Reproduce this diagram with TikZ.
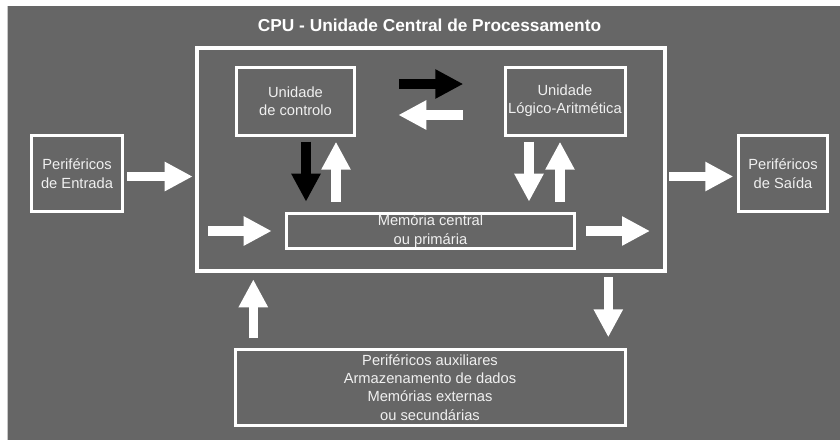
\documentclass[tikz,border=0pt]{standalone}
\usepackage{fontspec}
\setmainfont{Liberation Sans}
\usetikzlibrary{arrows.meta}
\definecolor{bg}{HTML}{666666}
\definecolor{txt}{HTML}{F0F0F0}
\begin{document}
\begin{tikzpicture}[x=1pt,y=-1pt,
  box/.style={draw=white,line width=3pt,rectangle,inner sep=0pt,text=txt,align=center,
    font=\fontsize{14.7}{18.3}\selectfont},
  blockw/.style={draw=white,line width=9.5pt,-{Triangle[length=28pt,width=27.5pt]}},
  blockb/.style={draw=black,line width=9.5pt,-{Triangle[length=28pt,width=27.5pt]}}]
\useasboundingbox (0,0) rectangle (840,440);
\fill[white] (0,0) rectangle (840,440);
\fill[bg] (7,6) rectangle (840,440);
\draw[line width=1pt,color={rgb,255:red,200;green,200;blue,200}] (7.5,6) -- (7.5,440);

\node[anchor=base,text=white,font=\fontsize{17.3}{20}\selectfont\bfseries] (title) at (429.5,31.7)
  {CPU - Unidade Central de Processamento};

\node[box,line width=4pt,minimum width=468pt,minimum height=223pt] (cpu) at (431,159) {};
\node[box,minimum width=118pt,minimum height=68pt] (cu) at (295.5,101) {Unidade\\de controlo};
\node[box,minimum width=120pt,minimum height=68pt] (alu) at (565,101) {Unidade\\Lógico-Aritmética};
\node[box,minimum width=91pt,minimum height=76pt] (in) at (77,173.7) {Periféricos\\de Entrada};
\node[box,minimum width=89.5pt,minimum height=76pt] (out) at (783,173.7) {Periféricos\\de Saída};
\node[box,minimum width=288pt,minimum height=35pt] (mem) at (430.5,231.2) {Memória central\\ou primária};
\node[box,minimum width=390pt,minimum height=76pt] (aux) at (430,387.2)
  {\raisebox{-2pt}{\parbox{300pt}{\centering Periféricos auxiliares\\Armazenamento de dados\\Memórias externas\\ou secundárias}}};

% arrow end points
\coordinate (a1s) at (127,176.5);   \coordinate (a1e) at (192.7,176.5);
\coordinate (a2s) at (669.3,176.5); \coordinate (a2e) at (733.3,176.5);
\coordinate (a3s) at (399.3,84);    \coordinate (a3e) at (463.3,84);
\coordinate (a4s) at (462.7,115);   \coordinate (a4e) at (398.3,115);
\coordinate (a5s) at (306,141.7);   \coordinate (a5e) at (306,201.7);
\coordinate (a6s) at (336,201.7);   \coordinate (a6e) at (336,141.7);
\coordinate (a7s) at (529,141.7);   \coordinate (a7e) at (529,201.7);
\coordinate (a8s) at (560,201.7);   \coordinate (a8e) at (560,141.7);
\coordinate (a9s) at (208.3,231);   \coordinate (a9e) at (271.7,231);
\coordinate (a10s) at (586,231);    \coordinate (a10e) at (650,231);
\coordinate (a11s) at (253.3,338.3);\coordinate (a11e) at (253.3,279.3);
\coordinate (a12s) at (608.3,277.3);\coordinate (a12e) at (608.3,337.3);

\draw[blockw] (a1s) -- (a1e);
\draw[blockw] (a2s) -- (a2e);
\draw[blockb] (a3s) -- (a3e);
\draw[blockw] (a4s) -- (a4e);
\draw[blockb] (a5s) -- (a5e);
\draw[blockw] (a6s) -- (a6e);
\draw[blockw] (a7s) -- (a7e);
\draw[blockw] (a8s) -- (a8e);
\draw[blockw] (a9s) -- (a9e);
\draw[blockw] (a10s) -- (a10e);
\draw[blockw] (a11s) -- (a11e);
\draw[blockw] (a12s) -- (a12e);
\end{tikzpicture}
\end{document}
